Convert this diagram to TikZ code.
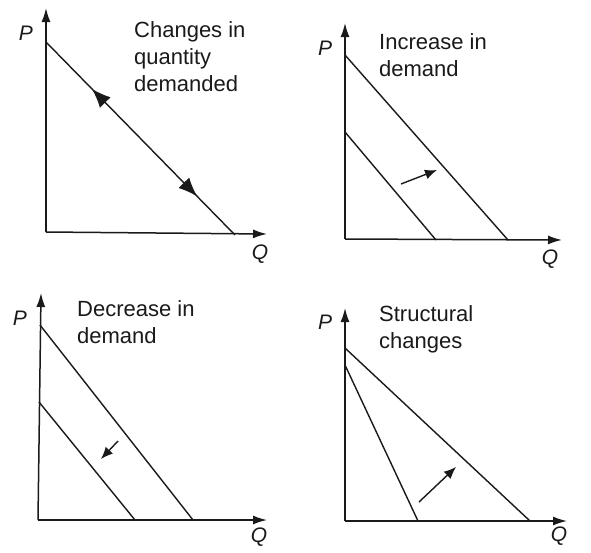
\documentclass[tikz,border=0pt]{standalone}
\usepackage{fontspec}
\setmainfont{Liberation Sans}
\usetikzlibrary{arrows.meta,decorations.markings}
\definecolor{ink}{HTML}{1A1A1A}
\begin{document}
\begin{tikzpicture}[x=1pt,y=-1pt,
  ax/.style={line width=1.5pt, -{Latex[length=14pt,width=9pt]}, draw=ink},
  dem/.style={line width=1.4pt, draw=ink},
  lab/.style={font=\fontsize{22}{27}\selectfont, anchor=north west, align=left, inner sep=0pt, text=ink},
  pq/.style={font=\fontsize{21}{21}\selectfont\itshape, inner sep=0pt, text=ink},
  shiftarrow/.style={line width=1.4pt, -{Latex[length=12pt,width=10pt]}, draw=ink},
  bothway/.style={postaction={decorate}, decoration={markings,
     mark=at position 0.243 with {\arrowreversed[ink]{Latex[length=19pt,width=15pt]}},
     mark=at position 0.80 with {\arrow[ink]{Latex[length=19pt,width=15pt]}}}}]
\useasboundingbox (0,0) rectangle (591,552);
\fill[white] (0,0) rectangle (591,552);

% ---------- Panel 1: changes in quantity demanded
\coordinate (o1) at (46,232);
\coordinate (py1) at (46,8);
\coordinate (qx1) at (267,234);
\coordinate (a1) at (46,42);
\coordinate (b1) at (235,235);
\draw[ax] (o1) -- (py1);
\draw[ax] (o1) -- (qx1);
\draw[dem,bothway] (a1) -- (b1);
\node[pq] (p1) at (26,33) {P};
\node[pq] (q1) at (260,254) {Q};
\node[lab] (t1) at (134,21) {Changes in\\quantity\\demanded};

% ---------- Panel 2: increase in demand
\coordinate (o2) at (345,239);
\coordinate (py2) at (345,23);
\coordinate (qx2) at (562,240);
\coordinate (a2) at (345,55);
\coordinate (b2) at (508,240);
\coordinate (c2) at (345,132);
\coordinate (d2) at (436,240);
\coordinate (s2) at (401,184);
\coordinate (e2) at (437,170);
\draw[ax] (o2) -- (py2);
\draw[ax] (o2) -- (qx2);
\draw[dem] (a2) -- (b2);
\draw[dem] (c2) -- (d2);
\draw[shiftarrow] (s2) -- (e2);
\node[pq] (p2) at (325,48) {P};
\node[pq] (q2) at (550,259) {Q};
\node[lab] (t2) at (379,33) {Increase in\\demand};

% ---------- Panel 3: decrease in demand
\coordinate (o3) at (38,520);
\coordinate (py3) at (41,293);
\coordinate (qx3) at (267,520);
\coordinate (a3) at (40,325);
\coordinate (b3) at (193,520);
\coordinate (c3) at (39,402);
\coordinate (d3) at (135,520);
\coordinate (s3) at (118,441);
\coordinate (e3) at (101,459);
\draw[ax] (o3) -- (py3);
\draw[ax] (o3) -- (qx3);
\draw[dem] (a3) -- (b3);
\draw[dem] (c3) -- (d3);
\draw[shiftarrow] (s3) -- (e3);
\node[pq] (p3) at (20,318) {P};
\node[pq] (q3) at (259,537) {Q};
\node[lab] (t3) at (77,300) {Decrease in\\demand};

% ---------- Panel 4: structural changes
\coordinate (o4) at (345,521);
\coordinate (py4) at (345,308);
\coordinate (qx4) at (567,521);
\coordinate (a4) at (345,348);
\coordinate (b4) at (530,521);
\coordinate (c4) at (345,365);
\coordinate (d4) at (418,521);
\coordinate (s4) at (419,502);
\coordinate (e4) at (456,467);
\draw[ax] (o4) -- (py4);
\draw[ax] (o4) -- (qx4);
\draw[dem] (a4) -- (b4);
\draw[dem] (c4) -- (d4);
\draw[shiftarrow] (s4) -- (e4);
\node[pq] (p4) at (325,322) {P};
\node[pq] (q4) at (559,536) {Q};
\node[lab] (t4) at (379,305) {Structural\\changes};
\end{tikzpicture}
\end{document}
